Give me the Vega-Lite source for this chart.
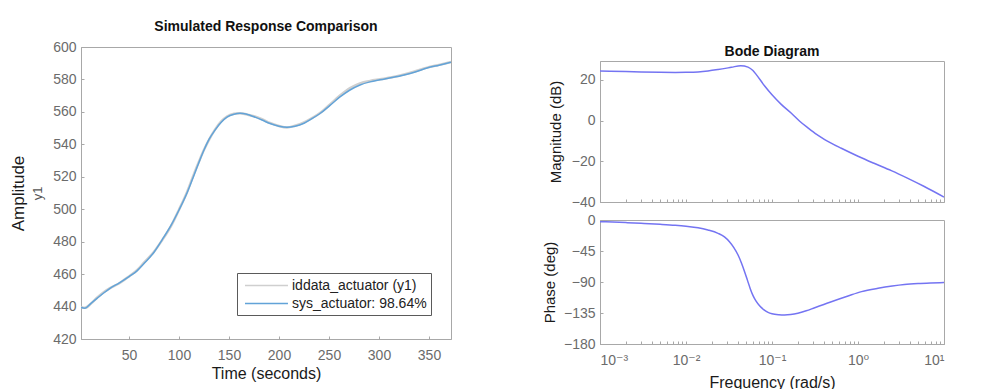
{
  "$schema": "https://vega.github.io/schema/vega-lite/v6.json",
  "padding": {"left": 8, "top": 19, "right": 0, "bottom": 0},
  "background": "white",
  "resolve": {"scale": {"color": "independent"}, "legend": {"color": "independent"}},
  "config": {
    "font": "Liberation Sans",
    "view": {"stroke": "#a8a8a8", "strokeWidth": 1},
    "axis": {
      "grid": false,
      "labelColor": "#6b6b6b",
      "labelFont": "Liberation Sans, DejaVu Sans",
      "labelFontSize": 14,
      "titleFont": "Liberation Sans",
      "titleColor": "#1a1a1a",
      "titleFontWeight": "normal",
      "titleFontSize": 15,
      "domainColor": "#a8a8a8",
      "tickColor": "#a8a8a8",
      "tickSize": -3
    },
    "title": {"font": "Liberation Sans", "fontSize": 14, "fontWeight": "bold", "color": "#111111"},
    "legend": {
      "strokeColor": "#5a5a5a",
      "fillColor": "white",
      "padding": 4,
      "symbolType": "M-0.6,0H5.13",
      "symbolSize": 225,
      "symbolStrokeWidth": 1.5,
      "labelOffset": 34,
      "labelFontSize": 14,
      "labelFont": "Liberation Sans",
      "labelColor": "#222222",
      "rowPadding": 2
    },
    "concat": {"spacing": 89}
  },
  "datasets": {
    "resp": [
      {"t": 2, "iddata": 439.8, "sys": 439.5},
      {"t": 6, "iddata": 439.2, "sys": 439.0},
      {"t": 12, "iddata": 441.8, "sys": 442.0},
      {"t": 18, "iddata": 445.4, "sys": 445.0},
      {"t": 25, "iddata": 449.0, "sys": 448.5},
      {"t": 31, "iddata": 451.4, "sys": 451.2},
      {"t": 40, "iddata": 454.2, "sys": 454.5},
      {"t": 50, "iddata": 458.6, "sys": 458.5},
      {"t": 58, "iddata": 462.4, "sys": 462.0},
      {"t": 65, "iddata": 467.1, "sys": 466.5},
      {"t": 75, "iddata": 473.8, "sys": 473.5},
      {"t": 83, "iddata": 480.8, "sys": 481.0},
      {"t": 92, "iddata": 489.6, "sys": 490.0},
      {"t": 100, "iddata": 499.7, "sys": 499.5},
      {"t": 108, "iddata": 510.5, "sys": 510.0},
      {"t": 115, "iddata": 521.8, "sys": 521.0},
      {"t": 120, "iddata": 529.4, "sys": 529.0},
      {"t": 125, "iddata": 536.6, "sys": 536.5},
      {"t": 130, "iddata": 542.8, "sys": 543.0},
      {"t": 136, "iddata": 549.1, "sys": 548.8},
      {"t": 142, "iddata": 554.0, "sys": 553.5},
      {"t": 148, "iddata": 557.2, "sys": 556.8},
      {"t": 155, "iddata": 558.8, "sys": 558.6},
      {"t": 161, "iddata": 559.2, "sys": 559.1},
      {"t": 168, "iddata": 558.3, "sys": 558.5},
      {"t": 175, "iddata": 557.3, "sys": 557.0},
      {"t": 183, "iddata": 555.5, "sys": 555.0},
      {"t": 191, "iddata": 553.2, "sys": 552.8},
      {"t": 200, "iddata": 551.3, "sys": 551.2},
      {"t": 208, "iddata": 550.4, "sys": 550.6},
      {"t": 216, "iddata": 551.5, "sys": 551.2},
      {"t": 225, "iddata": 553.5, "sys": 553.0},
      {"t": 233, "iddata": 556.2, "sys": 555.8},
      {"t": 241, "iddata": 559.3, "sys": 559.0},
      {"t": 251, "iddata": 564.6, "sys": 564.0},
      {"t": 261, "iddata": 570.1, "sys": 569.2},
      {"t": 271, "iddata": 574.7, "sys": 573.5},
      {"t": 281, "iddata": 577.6, "sys": 576.6},
      {"t": 291, "iddata": 579.1, "sys": 578.5},
      {"t": 301, "iddata": 580.1, "sys": 579.8},
      {"t": 313, "iddata": 581.3, "sys": 581.2},
      {"t": 325, "iddata": 583.0, "sys": 582.8},
      {"t": 337, "iddata": 585.2, "sys": 584.8},
      {"t": 348, "iddata": 587.3, "sys": 587.0},
      {"t": 360, "iddata": 589.0, "sys": 588.8},
      {"t": 372, "iddata": 590.7, "sys": 590.6}
    ],
    "mag": [
      {"f": 0.001, "mag": 24.4},
      {"f": 0.002, "mag": 24.1},
      {"f": 0.003, "mag": 23.9},
      {"f": 0.005, "mag": 23.75},
      {"f": 0.0075, "mag": 23.7},
      {"f": 0.01, "mag": 23.75},
      {"f": 0.0138, "mag": 23.95},
      {"f": 0.018, "mag": 24.4},
      {"f": 0.0236, "mag": 25.1},
      {"f": 0.0337, "mag": 26.2},
      {"f": 0.0433, "mag": 27.0},
      {"f": 0.0526, "mag": 26.3},
      {"f": 0.06, "mag": 24.6},
      {"f": 0.0657, "mag": 22.6},
      {"f": 0.0822, "mag": 17.0},
      {"f": 0.1, "mag": 12.7},
      {"f": 0.128, "mag": 8.0},
      {"f": 0.168, "mag": 3.6},
      {"f": 0.21, "mag": -0.3},
      {"f": 0.262, "mag": -3.6},
      {"f": 0.33, "mag": -6.8},
      {"f": 0.41, "mag": -9.3},
      {"f": 0.64, "mag": -13.6},
      {"f": 1.0, "mag": -17.5},
      {"f": 1.56, "mag": -21.1},
      {"f": 2.44, "mag": -24.6},
      {"f": 3.8, "mag": -28.4},
      {"f": 5.9, "mag": -32.4},
      {"f": 10.0, "mag": -37.6}
    ],
    "phase": [
      {"f": 0.001, "phase": -2.4},
      {"f": 0.002, "phase": -3.8},
      {"f": 0.003, "phase": -4.8},
      {"f": 0.005, "phase": -6.2},
      {"f": 0.0075, "phase": -7.6},
      {"f": 0.01, "phase": -9.0},
      {"f": 0.0138, "phase": -11.2},
      {"f": 0.018, "phase": -14.5},
      {"f": 0.0236, "phase": -19.4},
      {"f": 0.028, "phase": -24.5},
      {"f": 0.032, "phase": -31.5},
      {"f": 0.036, "phase": -40.0},
      {"f": 0.0403, "phase": -50.8},
      {"f": 0.044, "phase": -62.0},
      {"f": 0.048, "phase": -75.0},
      {"f": 0.052, "phase": -88.0},
      {"f": 0.056, "phase": -100.0},
      {"f": 0.06, "phase": -109.5},
      {"f": 0.065, "phase": -117.5},
      {"f": 0.0717, "phase": -124.5},
      {"f": 0.08, "phase": -130.0},
      {"f": 0.09, "phase": -134.0},
      {"f": 0.1, "phase": -136.0},
      {"f": 0.12, "phase": -137.5},
      {"f": 0.14, "phase": -137.9},
      {"f": 0.165, "phase": -137.3},
      {"f": 0.2, "phase": -135.4},
      {"f": 0.25, "phase": -131.8},
      {"f": 0.314, "phase": -127.3},
      {"f": 0.4, "phase": -122.6},
      {"f": 0.49, "phase": -118.6},
      {"f": 0.766, "phase": -110.3},
      {"f": 1.1, "phase": -104.0},
      {"f": 1.71, "phase": -99.1},
      {"f": 2.5, "phase": -95.8},
      {"f": 3.47, "phase": -93.6},
      {"f": 5.0, "phase": -92.2},
      {"f": 7.0, "phase": -91.4},
      {"f": 10.0, "phase": -90.8}
    ]
  },
  "hconcat": [
    {
      "resolve": {"scale": {"color": "independent"}, "legend": {"color": "independent"}},
      "vconcat": [
        {
          "width": 370,
          "height": 292,
          "title": {"text": "Simulated Response Comparison", "offset": 6},
          "data": {"name": "resp"},
          "resolve": {"axis": {"y": "independent"}},
          "layer": [
            {
              "mark": {"type": "line", "interpolate": "monotone", "strokeWidth": 2.5, "clip": true},
              "encoding": {
                "x": {
                  "field": "t", "type": "quantitative",
                  "scale": {"domain": [2, 372], "nice": false, "zero": false},
                  "axis": {"values": [50, 100, 150, 200, 250, 300, 350], "title": "Time (seconds)", "titleFontSize": 16, "labelPadding": 12, "titlePadding": 3}
                },
                "y": {
                  "field": "iddata", "type": "quantitative",
                  "scale": {"domain": [420, 600], "nice": false, "zero": false},
                  "axis": {"values": [420, 440, 460, 480, 500, 520, 540, 560, 580, 600], "title": "y1", "titleFontSize": 13, "titleColor": "#555555", "labelPadding": 8, "titlePadding": 8}
                },
                "color": {
                  "datum": "iddata_actuator (y1)", "type": "nominal",
                  "scale": {"domain": ["iddata_actuator (y1)", "sys_actuator: 98.64%"], "range": ["#cfcfcf", "#62a3d8"]},
                  "legend": {"title": null, "orient": "none", "legendX": 156, "legendY": 226}
                }
              }
            },
            {
              "mark": {"type": "line", "interpolate": "monotone", "strokeWidth": 1.5, "clip": true},
              "encoding": {
                "x": {"field": "t", "type": "quantitative"},
                "y": {
                  "field": "sys", "type": "quantitative",
                  "axis": {"orient": "left", "labels": false, "ticks": false, "domain": false, "title": "Amplitude", "titleFontSize": 17, "titlePadding": 54}
                },
                "color": {"datum": "sys_actuator: 98.64%", "type": "nominal"}
              }
            }
          ]
        }
      ]
    },
    {
      "bounds": "flush",
      "spacing": 13,
      "vconcat": [
        {
          "width": 344,
          "height": 1,
          "view": {"stroke": null},
          "data": {"values": []},
          "mark": "point",
          "encoding": {}
        },
        {
          "bounds": "flush",
          "spacing": 18,
          "vconcat": [
            {
              "width": 344,
              "height": 141,
              "title": {"text": "Bode Diagram", "offset": 2},
              "data": {"name": "mag"},
              "mark": {"type": "line", "interpolate": "monotone", "color": "#7474f2", "strokeWidth": 1.5, "clip": true},
              "encoding": {
                "x": {
                  "field": "f", "type": "quantitative",
                  "scale": {"type": "log", "domain": [0.001, 10], "nice": false},
                  "axis": {"labels": false, "title": null, "domain": false, "values": [0.001, 0.002, 0.003, 0.004, 0.005, 0.006, 0.007, 0.008, 0.009, 0.01, 0.02, 0.03, 0.04, 0.05, 0.06, 0.07, 0.08, 0.09, 0.1, 0.2, 0.3, 0.4, 0.5, 0.6, 0.7, 0.8, 0.9, 1, 2, 3, 4, 5, 6, 7, 8, 9, 10]}
                },
                "y": {
                  "field": "mag", "type": "quantitative",
                  "scale": {"domain": [-40, 29.3], "nice": false, "zero": false},
                  "axis": {"values": [-40, -20, 0, 20], "title": "Magnitude (dB)", "labelPadding": 8, "titlePadding": 8}
                }
              }
            },
            {
              "width": 344,
              "height": 124,
              "data": {"name": "phase"},
              "mark": {"type": "line", "interpolate": "monotone", "color": "#7474f2", "strokeWidth": 1.5, "clip": true},
              "encoding": {
                "x": {
                  "field": "f", "type": "quantitative",
                  "scale": {"type": "log", "domain": [0.001, 10], "nice": false},
                  "axis": {
                    "title": "Frequency  (rad/s)", "titleFontSize": 16, "labelPadding": 12, "titlePadding": 7,
                    "values": [0.001, 0.002, 0.003, 0.004, 0.005, 0.006, 0.007, 0.008, 0.009, 0.01, 0.02, 0.03, 0.04, 0.05, 0.06, 0.07, 0.08, 0.09, 0.1, 0.2, 0.3, 0.4, 0.5, 0.6, 0.7, 0.8, 0.9, 1, 2, 3, 4, 5, 6, 7, 8, 9, 10],
                    "labelExpr": "datum.value == 0.001 ? '10⁻³' : datum.value == 0.01 ? '10⁻²' : datum.value == 0.1 ? '10⁻¹' : datum.value == 1 ? '10⁰' : datum.value == 10 ? '10¹' : ''"
                  }
                },
                "y": {
                  "field": "phase", "type": "quantitative",
                  "scale": {"domain": [-180, 0], "nice": false, "zero": false},
                  "axis": {"values": [-180, -135, -90, -45, 0], "title": "Phase (deg)", "labelPadding": 8, "titlePadding": 6}
                }
              }
            }
          ]
        }
      ]
    }
  ]
}
